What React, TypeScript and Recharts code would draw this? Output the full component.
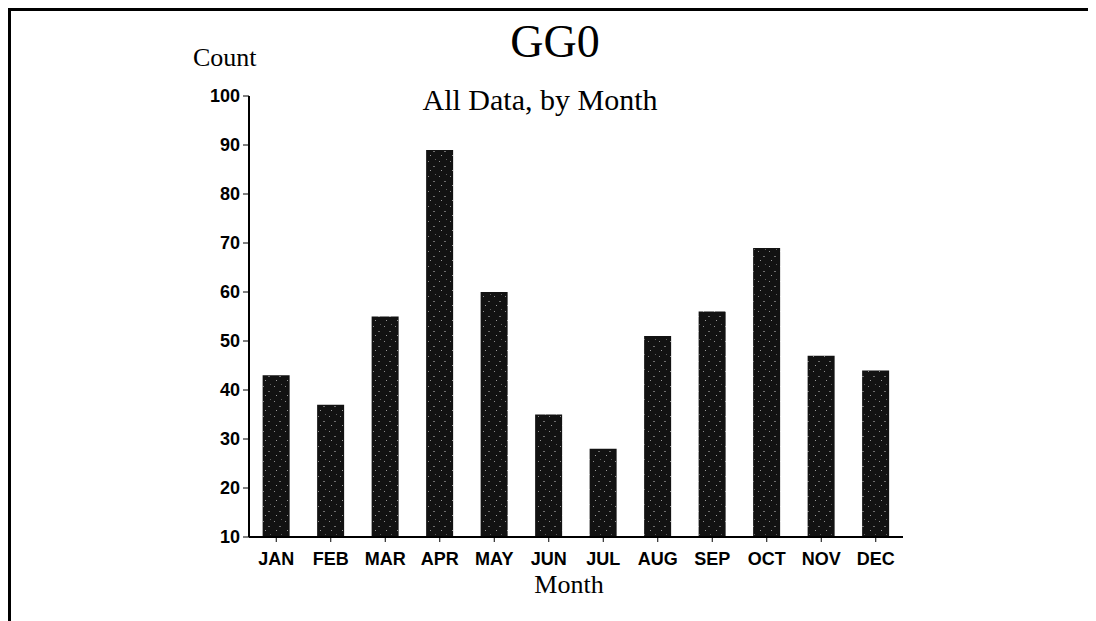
import React from "react";
import { BarChart, Bar, XAxis, YAxis } from "recharts";

// Conteos por mes (GG0, todos los datos)
const months = ["JAN", "FEB", "MAR", "APR", "MAY", "JUN", "JUL", "AUG", "SEP", "OCT", "NOV", "DEC"];
const counts = [43, 37, 55, 89, 60, 35, 28, 51, 56, 69, 47, 44];
const yTicks = [10, 20, 30, 40, 50, 60, 70, 80, 90, 100];

const data = months.map((m, i) => ({ month: m, count: counts[i] }));

const serif = "'Liberation Serif', 'DejaVu Serif', serif";
const sans = "'Liberation Sans', Arial, sans-serif";

export default function App() {
  return (
    <div style={{ position: "relative", width: 1088, height: 613, background: "#fff" }}>
      <BarChart
        width={1088}
        height={613}
        data={data}
        margin={{ top: 88, right: 193, bottom: 54, left: 0 }}
        barCategoryGap="25%"
        style={{ position: "absolute", left: 0, top: 0 }}
      >
        <defs>
          <pattern id="speck" width="11" height="15" patternUnits="userSpaceOnUse">
            <rect width="11" height="15" fill="#121212" />
            <rect x="2" y="3" width="1" height="1" fill="#8a8a8a" />
            <rect x="7" y="8" width="2" height="1" fill="#6e6e6e" />
            <rect x="4" y="12" width="1" height="1" fill="#9a9a9a" />
            <rect x="9" y="1" width="1" height="1" fill="#5e5e5e" />
          </pattern>
        </defs>
        <XAxis
          dataKey="month"
          interval={0}
          height={30}
          axisLine={{ stroke: "#000", strokeWidth: 2 }}
          tickLine={{ stroke: "#000" }}
          tickSize={5}
          tickMargin={10}
          tick={{ fill: "#000", fontSize: 18, fontWeight: 700, fontFamily: sans }}
        />
        <YAxis
          width={241}
          domain={[10, 100]}
          ticks={yTicks}
          allowDataOverflow
          axisLine={{ stroke: "#000", strokeWidth: 2 }}
          tickLine={{ stroke: "#000" }}
          tickSize={6}
          tickMargin={3}
          tick={{ fill: "#000", fontSize: 18, fontWeight: 700, fontFamily: sans }}
        />
        <Bar dataKey="count" fill="url(#speck)" isAnimationActive={false} />
      </BarChart>
      <svg
        width={1088}
        height={613}
        style={{ position: "absolute", left: 0, top: 0, pointerEvents: "none" }}
      >
        <text x={547} y={49} textAnchor="middle" fontFamily={serif} fontSize={46} fill="#000">
          GG0
        </text>
        <text x={532} y={102} textAnchor="middle" fontFamily={serif} fontSize={30} fill="#000">
          All Data, by Month
        </text>
        <text x={185} y={58} fontFamily={serif} fontSize={26} fill="#000">
          Count
        </text>
        <text x={561} y={585} textAnchor="middle" fontFamily={serif} fontSize={26} fill="#000">
          Month
        </text>
      </svg>
      <div
        style={{
          position: "absolute",
          left: 0,
          top: 0,
          width: 1088,
          height: 613,
          borderTop: "3px solid #000",
          borderLeft: "3px solid #000",
          boxSizing: "border-box",
          pointerEvents: "none",
        }}
      />
    </div>
  );
}
